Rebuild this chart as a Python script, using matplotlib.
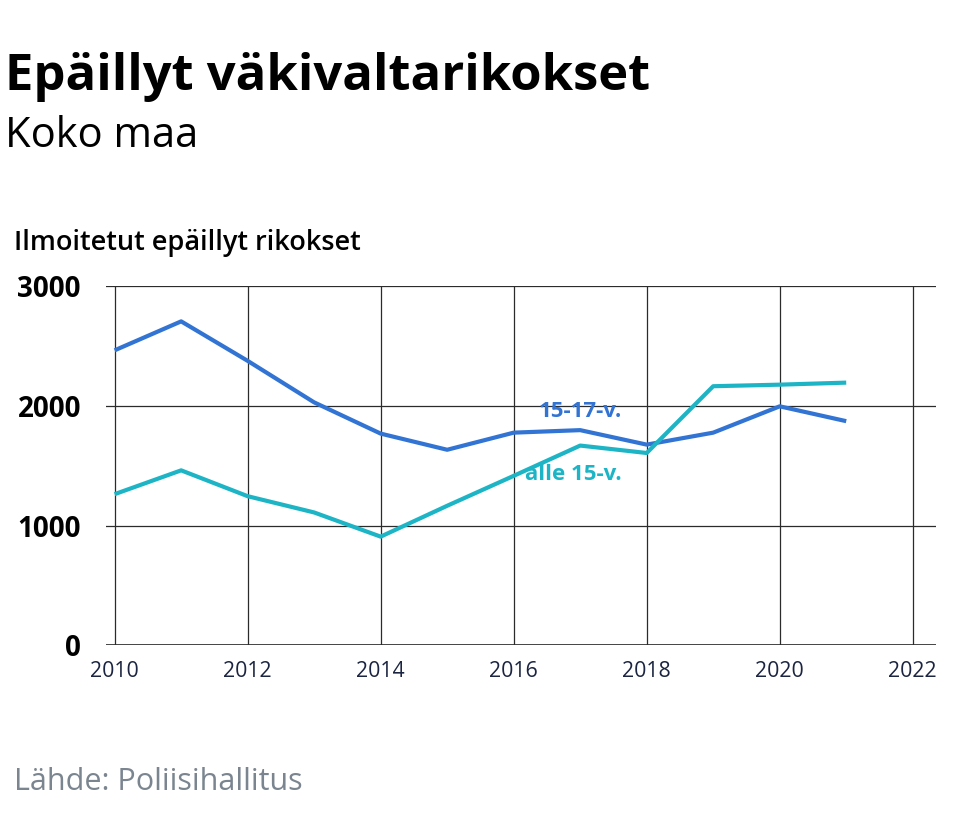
import numpy as np
import matplotlib
matplotlib.use('Agg')
from matplotlib import pyplot as plt

plt.rcParams['font.family'] = ['Open Sans', 'DejaVu Sans']

years = [2010, 2011, 2012, 2013, 2014, 2015, 2016, 2017, 2018, 2019, 2020, 2021]
age_15_17 = [2465, 2707, 2377, 2030, 1769, 1634, 1777, 1798, 1677, 1777, 1997, 1873]
under_15 = [1263, 1462, 1246, 1110, 908, 1166, 1416, 1669, 1607, 2165, 2178, 2195]
xticks = [2010, 2012, 2014, 2016, 2018, 2020, 2022]
yticks = [0, 1000, 2000, 3000]

blue = '#3274d3'
teal = '#1db5c6'
grid = '#2b2b2b'

W, H = 959, 818
fig = plt.figure(figsize=(W / 100, H / 100), dpi=100)
ax = fig.add_axes([106 / W, 1 - 645.3 / H, (936 - 106) / W, (645.3 - 286.3) / H])

ax.plot(years, age_15_17, color=blue, lw=3.0, solid_capstyle='butt', zorder=3)
ax.plot(years, under_15, color=teal, lw=3.0, solid_capstyle='butt', zorder=3)

ax.set_xlim(2009.87, 2022.35)
ax.set_ylim(0, 3000)
ax.set_xticks(xticks)
ax.set_yticks(yticks)
ax.set_xticklabels([str(t) for t in xticks], color='#1b2440', fontsize=15.3)
ax.set_yticklabels([str(t) for t in yticks], fontweight='bold', color='black', fontsize=20)
ax.tick_params(axis='x', length=0, pad=11)
ax.tick_params(axis='y', length=0, pad=18)
ax.grid(True, color=grid, lw=0.9)
for s in ax.spines.values():
    s.set_visible(False)
ax.axhline(0, color=grid, lw=1.2)

ax.text(2017.0, 1950, '15-17-v.', color=blue, fontsize=16, fontweight='bold',
        ha='center', va='center')
ax.text(2016.9, 1431, 'alle 15-v.', color=teal, fontsize=16, fontweight='bold',
        ha='center', va='center')

fig.text(5 / W, 1 - 90 / H, 'Epäillyt väkivaltarikokset', fontsize=36.5, fontweight='bold',
         va='baseline', ha='left')
fig.text(5 / W, 1 - 147 / H, 'Koko maa', fontsize=30, va='baseline', ha='left')
fig.text(14 / W, 1 - 250 / H, 'Ilmoitetut epäillyt rikokset', fontsize=19.5, fontweight='semibold',
         va='baseline', ha='left')
fig.text(14 / W, 1 - 790 / H, 'Lähde: Poliisihallitus', fontsize=22, color='#7b8590',
         va='baseline', ha='left')

fig.savefig('out.png', dpi=100)
